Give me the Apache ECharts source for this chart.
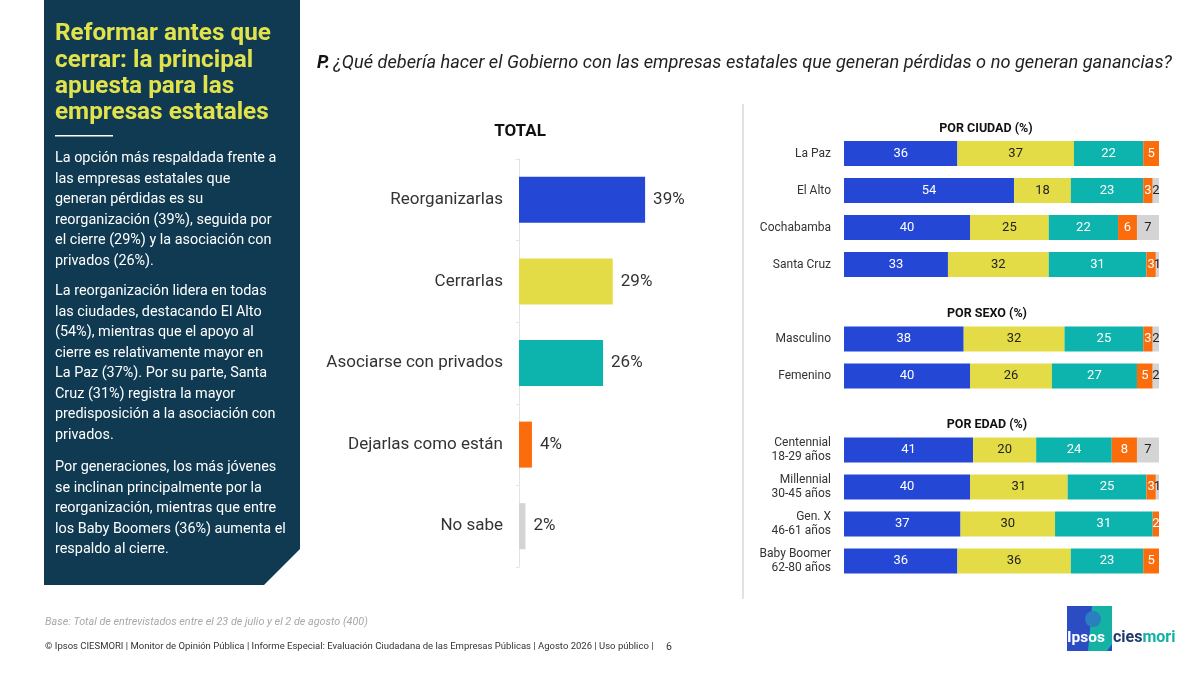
<!DOCTYPE html>
<html>
<head>
<meta charset="utf-8">
<script src="https://cdn.jsdelivr.net/npm/echarts@6/dist/echarts.min.js"></script>
<style>
html,body{margin:0;padding:0;background:#fff;}
#c{width:1200px;height:675px;}
</style>
</head>
<body>
<div id="c"></div>
<script>
// ---------- DATA ----------
const optionNames = ['Reorganizarlas', 'Cerrarlas', 'Asociarse con privados', 'Dejarlas como están', 'No sabe'];
const totalValues = [39, 29, 26, 4, 2];

const ciudadCats = ['La Paz', 'El Alto', 'Cochabamba', 'Santa Cruz'];
const ciudadReorg = [36, 54, 40, 33];
const ciudadCerrar = [37, 18, 25, 32];
const ciudadAsoc = [22, 23, 22, 31];
const ciudadDejar = [5, 3, 6, 3];
const ciudadNoSabe = [0, 2, 7, 1];

const sexoCats = ['Masculino', 'Femenino'];
const sexoReorg = [38, 40];
const sexoCerrar = [32, 26];
const sexoAsoc = [25, 27];
const sexoDejar = [3, 5];
const sexoNoSabe = [2, 2];

const edadCats = ['Centennial\n18-29 años', 'Millennial\n30-45 años', 'Gen. X\n46-61 años', 'Baby Boomer\n62-80 años'];
const edadReorg = [41, 40, 37, 36];
const edadCerrar = [20, 31, 30, 36];
const edadAsoc = [24, 25, 31, 23];
const edadDejar = [8, 3, 2, 5];
const edadNoSabe = [7, 1, 0, 0];

// ---------- STYLE ----------
const colors = ['#2447d6', '#e4dc46', '#0db3ad', '#fa6c0c', '#d4d4d4'];
const labelColors = ['#ffffff', '#222222', '#ffffff', '#ffffff', '#222222'];
const FONT = 'Roboto, "Noto Sans", sans-serif';

const chart = echarts.init(document.getElementById('c'), null, {renderer: 'canvas'});

const groups = [
  {cats: ciudadCats, vals: [ciudadReorg, ciudadCerrar, ciudadAsoc, ciudadDejar, ciudadNoSabe], top: 135, height: 148},
  {cats: sexoCats, vals: [sexoReorg, sexoCerrar, sexoAsoc, sexoDejar, sexoNoSabe], top: 320.5, height: 74},
  {cats: edadCats, vals: [edadReorg, edadCerrar, edadAsoc, edadDejar, edadNoSabe], top: 431.5, height: 148}
];

const grids = [{left: 519, top: 159, width: 194, height: 408}];
const xAxes = [{gridIndex: 0, type: 'value', min: 0, max: 60, show: false}];
const yAxes = [{
  gridIndex: 0, type: 'category', inverse: true, data: optionNames,
  axisLine: {show: true, lineStyle: {color: '#e3e3e3', width: 1}},
  axisTick: {show: true, length: 3, lineStyle: {color: '#e3e3e3'}},
  axisLabel: {fontSize: 17, color: '#333', margin: 16, fontFamily: FONT, padding: [4, 0, 0, 0]}
}];
const series = [{
  type: 'bar', xAxisIndex: 0, yAxisIndex: 0, barWidth: 46,
  data: totalValues.map((v, i) => ({value: v, itemStyle: {color: colors[i]}})),
  label: {show: true, position: 'right', distance: 8, formatter: '{c}%', fontSize: 17, color: '#333', fontFamily: FONT, padding: [4, 0, 0, 0]}
}];

groups.forEach((g, gi) => {
  const idx = gi + 1;
  grids.push({left: 844, width: 315, top: g.top, height: g.height});
  xAxes.push({gridIndex: idx, type: 'value', min: 0, max: 100, show: false});
  yAxes.push({
    gridIndex: idx, type: 'category', inverse: true, data: g.cats,
    axisLine: {show: false}, axisTick: {show: false},
    axisLabel: {fontSize: 12, color: '#333', margin: 13, lineHeight: 14, fontFamily: FONT}
  });
  g.vals.forEach((arr, si) => {
    series.push({
      type: 'bar', name: optionNames[si], stack: 'g' + gi,
      xAxisIndex: idx, yAxisIndex: idx, barWidth: 25,
      itemStyle: {color: colors[si]},
      data: arr,
      label: {
        show: true, position: 'inside', fontSize: 13, color: labelColors[si], fontFamily: FONT,
        formatter: p => (p.value ? String(p.value) : '')
      }
    });
  });
});

const bodyStyle = {fill: '#ffffff', fontSize: 14.4, lineHeight: 20.5, fontFamily: FONT, verticalAlign: 'top'};

const graphic = [
  // left panel
  {type: 'polygon', shape: {points: [[44, 0], [300, 0], [300, 549], [264, 585], [44, 585]]}, style: {fill: '#0f3a51'}, silent: true},
  {type: 'text', left: 55, top: 21, style: {
    text: 'Reformar antes que\ncerrar: la principal\napuesta para las\nempresas estatales',
    fill: '#e2e24c', fontSize: 24.3, fontWeight: 'bold', lineHeight: 26.4, fontFamily: FONT}},
  {type: 'rect', shape: {x: 55, y: 135, width: 58, height: 1.5}, style: {fill: '#ffffff'}},
  {type: 'text', left: 55, top: 148.5, style: Object.assign({}, bodyStyle, {
    text: 'La opción más respaldada frente a\nlas empresas estatales que\ngeneran pérdidas es su\nreorganización (39%), seguida por\nel cierre (29%) y la asociación con\nprivados (26%).'})},
  {type: 'text', left: 55, top: 281.5, style: Object.assign({}, bodyStyle, {
    text: 'La reorganización lidera en todas\nlas ciudades, destacando El Alto\n(54%), mientras que el apoyo al\ncierre es relativamente mayor en\nLa Paz (37%). Por su parte, Santa\nCruz (31%) registra la mayor\npredisposición a la asociación con\nprivados.'})},
  {type: 'text', left: 55, top: 457.5, style: Object.assign({}, bodyStyle, {
    text: 'Por generaciones, los más jóvenes\nse inclinan principalmente por la\nreorganización, mientras que entre\nlos Baby Boomers (36%) aumenta el\nrespaldo al cierre.'})},
  // question
  {type: 'text', x: 317, y: 63, style: {
    text: '{b|P.} {i|¿Qué debería hacer el Gobierno con las empresas estatales que generan pérdidas o no generan ganancias?}',
    verticalAlign: 'middle',
    rich: {
      b: {fontSize: 18.2, fontWeight: 'bold', fontStyle: 'italic', fill: '#111', fontFamily: FONT},
      i: {fontSize: 18.2, fontStyle: 'italic', fill: '#222', fontFamily: FONT}
    }}},
  // section titles
  {type: 'text', x: 520, y: 132, style: {text: 'TOTAL', fontSize: 17, fontWeight: 'bold', fill: '#111', align: 'center', verticalAlign: 'middle', fontFamily: FONT}},
  {type: 'text', x: 986, y: 129, style: {text: 'POR CIUDAD (%)', fontSize: 12.5, fontWeight: 'bold', fill: '#111', align: 'center', verticalAlign: 'middle', fontFamily: FONT}},
  {type: 'text', x: 987, y: 314, style: {text: 'POR SEXO (%)', fontSize: 12.5, fontWeight: 'bold', fill: '#111', align: 'center', verticalAlign: 'middle', fontFamily: FONT}},
  {type: 'text', x: 987, y: 425, style: {text: 'POR EDAD (%)', fontSize: 12.5, fontWeight: 'bold', fill: '#111', align: 'center', verticalAlign: 'middle', fontFamily: FONT}},
  // vertical separator
  {type: 'rect', shape: {x: 742, y: 104, width: 2, height: 495}, style: {fill: '#e2e2e2'}},
  // footer
  {type: 'text', x: 45, y: 622, style: {text: 'Base: Total de entrevistados entre el 23 de julio y el 2 de agosto (400)', fontSize: 10.8, fontStyle: 'italic', fill: '#a8a8a8', fontFamily: FONT, verticalAlign: 'middle'}},
  {type: 'text', x: 45, y: 647, style: {text: '© Ipsos CIESMORI | Monitor de Opinión Pública | Informe Especial: Evaluación Ciudadana de las Empresas Públicas | Agosto 2026 | Uso público |', fontSize: 9.5, fill: '#333', fontFamily: FONT, verticalAlign: 'middle'}},
  {type: 'text', x: 666, y: 647, style: {text: '6', fontSize: 10.5, fill: '#333', fontFamily: FONT, verticalAlign: 'middle'}},
  // logo
  {type: 'rect', shape: {x: 1067, y: 606, width: 45, height: 45}, style: {fill: '#2b4cc2'}},
  {type: 'polygon', shape: {points: [[1092, 606], [1112, 606], [1112, 644], [1107, 651], [1088, 651], [1090, 630]]}, style: {fill: '#16b1a5'}},
  {type: 'circle', shape: {cx: 1093, cy: 619, r: 8}, style: {fill: '#2a7fc0'}},
  {type: 'text', x: 1067, y: 638, style: {text: 'Ipsos', fontSize: 15.5, fontWeight: 'bold', fill: '#ffffff', fontFamily: FONT, verticalAlign: 'middle'}},
  {type: 'text', x: 1113, y: 638, style: {
    text: '{a|cies}{b|mori}', verticalAlign: 'middle',
    rich: {
      a: {fontSize: 16, fontWeight: 'bold', fill: '#1d3a6b', fontFamily: FONT},
      b: {fontSize: 16, fontWeight: 'bold', fill: '#12b2a4', fontFamily: FONT}
    }}}
];

chart.setOption({
  animation: false,
  backgroundColor: '#ffffff',
  textStyle: {fontFamily: FONT},
  grid: grids,
  xAxis: xAxes,
  yAxis: yAxes,
  series: series,
  graphic: graphic
});
</script>
</body>
</html>
